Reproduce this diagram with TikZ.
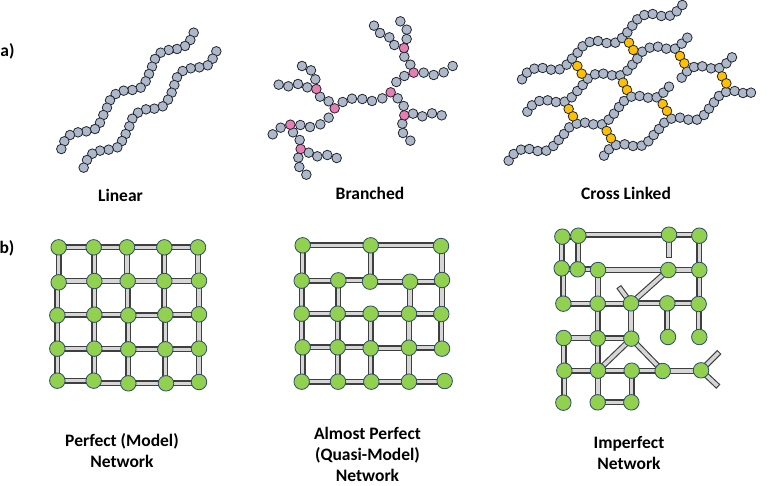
\documentclass[tikz,border=0pt]{standalone}
\usepackage{fontspec}
\setmainfont{Carlito}
\usetikzlibrary{backgrounds}
\definecolor{beadblue}{HTML}{ADB9CA}
\definecolor{beadline}{HTML}{20242C}
\definecolor{beadpink}{HTML}{E87DB2}
\definecolor{beadyellow}{HTML}{FFC000}
\definecolor{nodegreen}{HTML}{92D050}
\definecolor{nodeline}{HTML}{2F4A6A}
\definecolor{bonddark}{HTML}{3F3F3F}
\definecolor{bondlight}{HTML}{D6D6D6}
\tikzset{
  bead/.style={circle,draw=beadline,line width=0.8pt,inner sep=0pt,minimum size=9.6pt,fill=beadblue},
  pinkbead/.style={bead,fill=beadpink},
  yellowbead/.style={bead,fill=beadyellow},
  gn/.style={circle,draw=nodeline,line width=0.8pt,inner sep=0pt,minimum size=15.5pt,fill=nodegreen},
  bond/.style={draw=bonddark,line width=1.15pt,double=bondlight,double distance=3.6pt},
  stubout/.style={draw=bonddark,line width=5.9pt},
  stubin/.style={draw=bondlight,line width=3.6pt,shorten >=1.1pt},
  lab/.style={font=\bfseries\fontsize{17.5}{21}\selectfont,align=center,inner sep=0pt,text=black},
}
\newcommand{\beads}[3]{\foreach \p [count=\i] in {#3} \node[#2] (#1\i) at \p {};}
\newcommand{\greens}[2]{\foreach \n/\x/\y in {#2} \node[gn] (#1\n) at (\x,\y) {};}
\newcommand{\bonds}[2]{\begin{pgfonlayer}{background}\foreach \s/\t in {#2} \draw[bond] (#1\s.center) -- (#1\t.center);\end{pgfonlayer}}
\newcommand{\hbonds}[2]{\begin{pgfonlayer}{background}\foreach \s/\t in {#2} \draw[bond] (#1\s.center) -- (#1\s.center -| #1\t.center);\end{pgfonlayer}}
\newcommand{\vbonds}[2]{\begin{pgfonlayer}{background}\foreach \s/\t in {#2} \draw[bond] (#1\s.center) -- (#1\s.center |- #1\t.center);\end{pgfonlayer}}
\begin{document}
\begin{tikzpicture}[x=1pt,y=-1pt]
\useasboundingbox (0,0) rectangle (770,485);
% ---------- linear
\begin{scope}[shift={(40,20)},x=0.33333pt,y=-0.33333pt]
\beads{LA}{bead}{(461,38),(451,60),(435,78),(411,87),(386,90),(362,98),(345,117),(336,140),(327,162),(317,184),(302,203),(277,210),(251,212),(227,222),(210,241),(201,263),(190,285),(180,308),(165,327),(139,334),(114,337),(90,345),(73,364),(64,387)}
\beads{LB}{bead}{(529,94),(518,116),(503,136),(478,142),(452,145),(428,153),(411,172),(403,195),(395,218),(384,239),(368,259),(343,266),(318,268),(294,278),(277,296),(268,319),(257,342),(246,363),(232,382),(206,389),(180,392),(157,401),(141,420),(131,443)}
\end{scope}
% ---------- branched
\begin{scope}[shift={(260,10)},x=0.33333pt,y=-0.33333pt]
\beads{BG}{bead}{(342,47),(360,69),(388,82),(403,105),(421,34),(440,59),(440,87),(433,140),(451,164),(491,188),(521,195),(551,187),(578,168),(433,198),(409,216),(367,265),(336,273),(307,267),(276,266),(248,276),(206,274),(180,260),(166,208),(153,181),(126,168),(142,232),(114,222),(85,229),(56,224),(206,323),(181,343),(150,351),(121,345),(62,353),(38,373),(99,367),(119,390),(146,428),(172,439),(202,435),(230,444),(115,443),(118,471),(139,494),(413,265),(431,288),(459,311),(487,319),(516,310),(545,316),(427,341),(429,369),(451,392)}
\beads{BP}{pinkbead}{(432,114),(461,188),(392,247),(224,295),(169,237),(91,344),(122,417),(433,316)}
\end{scope}
% ---------- cross linked
\begin{scope}[shift={(500,0)},x=0.33333pt,y=-0.33333pt]
\beads{CA}{bead}{(66,238),(81,218),(103,206),(128,204),(153,209),(179,208),(200,194),(216,176),(233,158),(248,139),(269,126),(294,123),(320,129),(346,128),(366,114)}
\beads{CB}{bead}{(82,335),(96,316),(118,303),(143,301),(168,306),(194,305),(215,292),(232,273),(248,255),(263,236),(285,223),(310,221),(336,226),(361,226)}
\beads{CC}{bead}{(26,482),(41,462),(63,449),(88,447),(113,453),(139,452),(160,438),(176,420),(192,402),(208,382),(230,371),(255,368),(280,373),(306,373),(326,359),(342,341),(357,321),(372,303)}
\beads{CD}{bead}{(312,467),(327,448),(348,435),(374,433)}
\beads{CY}{yellowbead}{(232,198),(245,221),(206,327),(219,349),(320,393),(333,415),(369,248),(381,270)}
\end{scope}
\begin{scope}[shift={(620,0)},x=0.33333pt,y=-0.33333pt]
\beads{DA}{bead}{(22,97),(37,77),(52,58),(73,45),(98,42),(124,48),(150,47),(170,34),(187,15)}
\beads{DB}{bead}{(22,212),(37,194),(52,176),(67,155),(89,143),(114,140),(139,146),(165,146),(185,131),(202,113)}
\beads{DC}{bead}{(34,290),(59,288),(84,293),(110,292),(130,278),(147,260)}
\beads{DD}{bead}{(39,438),(65,437),(85,424),(101,405),(117,387),(133,368),(154,356),(180,353),(205,359),(231,359),(252,345),(267,326),(282,307),(297,288),(318,276),(344,273),(369,279),(393,278)}
\beads{DE}{bead}{(185,233),(201,214),(222,201),(247,199),(273,205),(298,204),(319,190),(336,172)}
\beads{DY}{yellowbead}{(27,128),(40,150),(180,168),(193,190),(128,312),(141,333),(306,229),(319,250)}
\end{scope}
% ---------- perfect network
\begin{scope}[shift={(30,230)},x=0.33333pt,y=-0.33333pt]
\greens{P}{11/86/52,12/191/52,13/291/52,14/403/52,15/504/52,
21/86/157,22/193/153,23/293/153,24/403/153,25/507/152,
31/82/256,32/193/254,33/295/256,34/406/254,35/507/253,
41/82/356,42/193/356,43/295/358,44/406/358,45/507/356,
51/82/452,52/191/452,53/295/460,54/408/460,55/507/456}
\hbonds{P}{11/12,12/13,13/14,14/15,22/21,22/23,23/24,24/25,32/31,32/33,33/34,34/35,42/41,42/43,43/44,44/45,51/52,53/52,53/54,54/55}
\vbonds{P}{21/11,31/21,41/31,41/51,22/12,22/32,32/42,42/52,13/23,23/33,33/43,43/53,14/24,24/34,34/44,44/54,15/25,25/35,35/45,45/55}
\end{scope}
% ---------- almost perfect network
\begin{scope}[shift={(280,230)},x=0.33333pt,y=-0.33333pt]
\greens{Q}{a1/68/46,a2/272/46,a3/483/48,
b1/65/152,b2/175/151,b3/270/155,b4/390/155,b5/486/150,
c1/65/251,c2/173/251,c3/272/251,c4/387/251,c5/484/252,
d1/68/352,d2/173/352,d3/272/355,d4/387/353,d5/486/356,
e1/65/455,e2/174/455,e3/274/455,e4/387/455,e5/494/453}
\hbonds{Q}{a1/a2,a2/a3,b1/b2,b2/b3,b3/b4,b4/b5,c1/c2,c2/c3,c3/c4,c4/c5,d1/d2,d2/d3,d3/d4,d4/d5,e1/e2,e2/e3,e3/e4,e4/e5}
\vbonds{Q}{a1/b1,a2/b3,b5/a3,b1/c1,b2/c2,b4/c4,b5/c5,c1/d1,c2/d2,c3/d3,c4/d4,c5/d5,d1/e1,d2/e2,d3/e3,d4/e4}
\end{scope}
% ---------- imperfect network
\begin{scope}[shift={(540,220)},x=0.33333pt,y=-0.33333pt]
\greens{I}{n1/67/50,n2/115/47,n3/387/44,n4/478/47,
m1/65/145,m2/113/148,m3/174/150,m4/385/150,m5/478/150,
l1/70/251,l2/173/251,l3/273/250,l4/382/250,l5/476/252,
k1/71/354,k2/173/355,k3/274/356,k4/384/351,k5/478/351,
j1/73/452,j2/174/452,j3/275/452,j4/368/453,j5/483/451,
h1/70/548,h2/173/547,h3/274/547}
\coordinate (Is1) at (387,115);
\coordinate (Is2) at (236,200);
\coordinate (Is3) at (538,396);
\coordinate (Is4) at (535,500);
\hbonds{I}{n1/n2,n3/n2,n3/n4,m2/m1,m2/m3,m3/m4,m4/m5,l1/l2,l2/l3,l3/l4,l4/l5,k1/k2,k2/k3,j1/j2,j2/j3,j3/j4,j4/j5,h2/h3}
\vbonds{I}{m1/n1,n2/m2,m3/l2,m5/n4,m5/l5,l1/m1,l2/k2,l3/k3,l4/k4,l5/k5,k1/j1,k2/j2,j1/h1,j2/h2,j3/h3}
\bonds{I}{l3/m4,k3/j2,k3/j4}
\begin{pgfonlayer}{background}
\foreach \s/\t in {n3/Is1,l3/Is2,j5/Is3,j5/Is4}{
  \draw[stubout] (I\s.center) -- (\t);
  \draw[stubin] (I\s.center) -- (\t);
}
\end{pgfonlayer}
\end{scope}
% ---------- labels
\node[lab] (la) at (7.5,51) {a)};
\node[lab] (lb) at (7,248) {b)};
\node[lab] (t1) at (120.5,195) {Linear};
\node[lab] (t2) at (370,193) {Branched};
\node[lab] (t3) at (626,193) {Cross Linked};
\node[lab] (t4) at (122,451) {Perfect (Model)\\Network};
\node[lab] (t5) at (367.5,454) {Almost Perfect\\(Quasi-Model)\\Network};
\node[lab] (t6) at (629,453) {Imperfect\\Network};
\end{tikzpicture}
\end{document}
